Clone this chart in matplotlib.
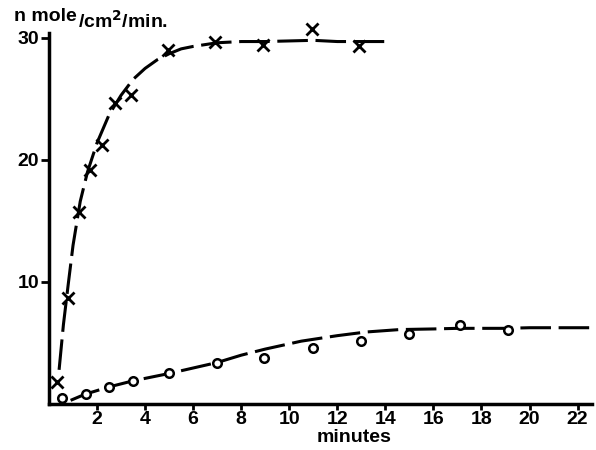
import numpy as np
import matplotlib.pyplot as plt

plt.rcParams['font.family'] = ['Liberation Sans', 'DejaVu Sans']

# dados (x = minutos, y = n mole/cm2/min)
x_cruz = [0.33, 0.8, 1.25, 1.7, 2.2, 2.75, 3.4, 4.96, 6.9, 8.9, 10.96, 12.9]
y_cruz = [1.8, 8.7, 15.7, 19.2, 21.2, 24.7, 25.3, 29.0, 29.7, 29.4, 30.7, 29.3]

x_circ = [0.54, 1.54, 2.5, 3.5, 5.0, 7.0, 8.96, 11.0, 13.0, 15.0, 17.1, 19.1]
y_circ = [0.5, 0.8, 1.4, 1.9, 2.5, 3.4, 3.8, 4.6, 5.2, 5.7, 6.5, 6.1]

# curvas desenhadas a mao
xc_cruz = [0.42, 0.6, 0.8, 1.0, 1.3, 1.6, 2.0, 2.5, 3.0, 3.5, 4.0, 4.5, 5.0, 5.5, 6.0, 7.0, 8.0, 9.0, 11.0, 12.0, 13.0, 14.2]
yc_cruz = [2.8, 6.5, 9.8, 13.0, 16.6, 19.0, 21.4, 23.7, 25.3, 26.6, 27.5, 28.2, 28.7, 29.1, 29.3, 29.6, 29.7, 29.7, 29.8, 29.7, 29.7, 29.7]

xc_circ = [0.9, 1.5, 2.5, 3.5, 5.0, 7.0, 8.0, 9.0, 10.5, 12.0, 13.2, 14.6, 16.0, 17.0, 18.0, 19.0, 20.0, 22.5]
yc_circ = [0.3, 0.8, 1.4, 1.9, 2.5, 3.4, 4.0, 4.5, 5.15, 5.6, 5.9, 6.1, 6.15, 6.2, 6.2, 6.2, 6.25, 6.25]

xticks = [2, 4, 6, 8, 10, 12, 14, 16, 18, 20, 22]
yticks = [10, 20, 30]

fig = plt.figure(figsize=(5.96, 4.5), dpi=100)
ax = fig.add_axes([49 / 596, 1 - 404 / 450, (592 - 49) / 596, (404 - 33) / 450])

tracejado = (0, (10, 2.5))
ax.plot(xc_cruz, yc_cruz, color='black', lw=2.2, linestyle=tracejado)
ax.plot(xc_circ, yc_circ, color='black', lw=2.2, linestyle=tracejado)

ax.scatter(x_cruz, y_cruz, marker='x', s=75, color='black', linewidths=2.0, zorder=3, clip_on=False)
ax.scatter(x_circ, y_circ, marker='o', s=38, facecolor='white', edgecolor='black', linewidths=1.8, zorder=3, clip_on=False)

ax.set_xlim(0, 22.6)
ax.set_ylim(0, 30.4)
ax.spines['top'].set_visible(False)
ax.spines['right'].set_visible(False)
ax.spines['left'].set_linewidth(2.5)
ax.spines['bottom'].set_linewidth(2.5)

ax.set_xticks(xticks)
ax.set_yticks(yticks)
ax.tick_params(axis='x', direction='out', length=4, width=2, labelsize=14, pad=1)
ax.tick_params(axis='y', direction='out', length=6, width=2, labelsize=14, pad=1)
for rot in ax.get_xticklabels() + ax.get_yticklabels():
    rot.set_fontweight('bold')

# rotulos
fig.text(354 / 596, 1 - 438 / 450, 'minutes', fontsize=14, fontweight='bold', ha='center', va='center')
fig.text(14 / 596, 1 - 21 / 450, 'n mole', fontsize=14, fontweight='bold', ha='left', va='baseline')
fig.text(78 / 596, 1 - 28 / 450, '/cm$^\\mathbf{2}$/min.', fontsize=14, fontweight='bold', ha='left', va='baseline')

fig.savefig('out.png', dpi=100)
